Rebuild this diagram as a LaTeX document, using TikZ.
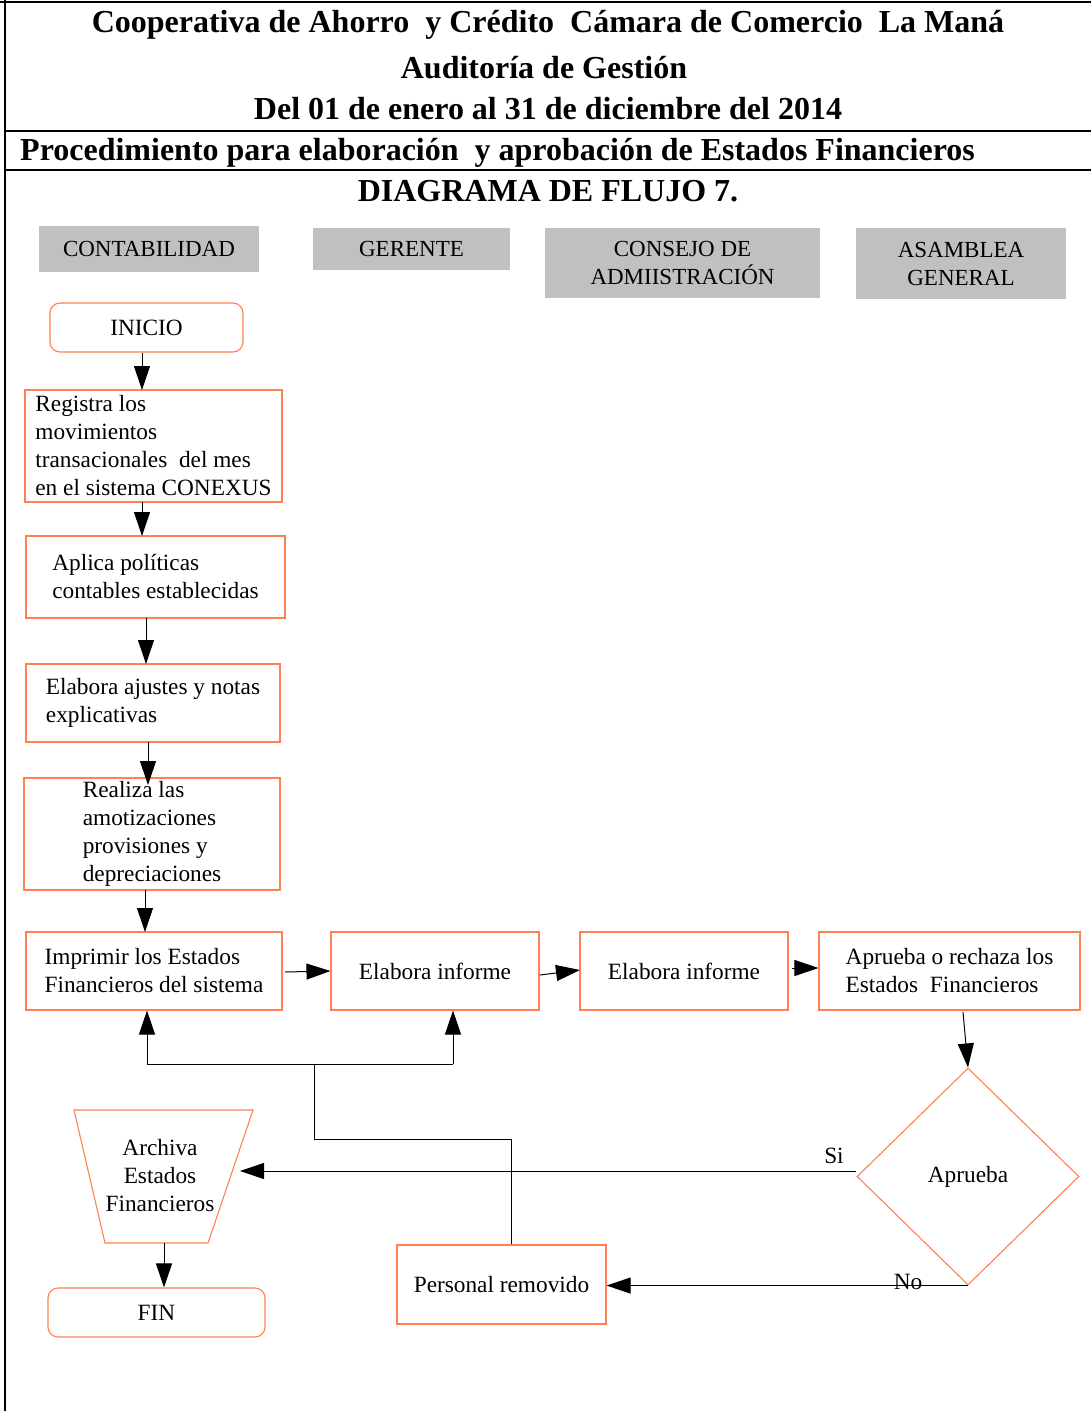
\documentclass[tikz,border=0pt]{standalone}
\usepackage{fontspec}
\setmainfont{Liberation Serif}
\usetikzlibrary{arrows.meta,shapes.geometric}
\definecolor{boxline}{RGB}{255,128,80}
\definecolor{lanegray}{RGB}{192,192,192}
\tikzset{
  proc/.style={draw=boxline, line width=1.1pt, inner sep=0pt, align=left, font=\fontsize{23.3}{28}\selectfont},
  term/.style={proc, rounded corners=10pt, align=center},
  lane/.style={fill=lanegray, inner sep=0pt, align=center, font=\fontsize{23}{28}\selectfont},
  arr/.style={line width=1pt, -{Triangle[length=24pt,width=16pt]}},
  conn/.style={line width=1pt},
  frame/.style={line width=2.8pt},
  ttl/.style={font=\fontsize{32}{36}\bfseries\selectfont, inner sep=0pt},
  lbl/.style={font=\fontsize{23.3}{28}\selectfont, inner sep=0pt}
}
\begin{document}
\begin{tikzpicture}[x=1pt,y=-1pt]
\useasboundingbox (0,0) rectangle (1091,1411);
% frame
\draw[frame] (0,2) -- (1091,2);
\draw[frame] (5,0) -- (5,1411);
\draw[frame] (5,131) -- (1091,131);
\draw[frame] (5,170) -- (1091,170);
% titles
\node[ttl] (t1) at (548,25) {Cooperativa de Ahorro\ \ y Crédito\ \ Cámara de Comercio\ \ La Maná};
\node[ttl] (t2) at (544,68) {Auditoría de Gestión};
\node[ttl] (t3) at (548,109) {Del 01 de enero al 31 de diciembre del 2014};
\node[ttl, anchor=west] (t4) at (20,153) {Procedimiento para elaboración\ \ y aprobación de Estados Financieros};
\node[ttl] (t5) at (548,191) {DIAGRAMA DE FLUJO 7.};
% lanes
\node[lane, minimum width=220pt, minimum height=46pt] (l1) at (149,249) {CONTABILIDAD};
\node[lane, minimum width=197pt, minimum height=42pt] (l2) at (411.5,249) {GERENTE};
\node[lane, minimum width=275pt, minimum height=70pt] (l3) at (682.5,263) {CONSEJO DE\\ADMIISTRACIÓN};
\node[lane, minimum width=210pt, minimum height=71pt] (l4) at (961,263.5) {ASAMBLEA\\GENERAL};
% nodes
\node[term, minimum width=193pt, minimum height=49pt] (ini) at (146.5,327.5) {INICIO};
\node[proc, minimum width=257pt, minimum height=112pt] (reg) at (153.5,446) {Registra los\\movimientos\\transacionales\ \ del mes\\en el sistema CONEXUS};
\node[proc, minimum width=259pt, minimum height=82pt] (apl) at (155.5,577) {Aplica políticas\\contables establecidas};
\node[proc, minimum width=254pt, minimum height=78pt] (aju) at (153,703) {Elabora ajustes y notas\\explicativas};
\node[proc, minimum width=256pt, minimum height=112pt] (rea) at (152,834) {Realiza las\\amotizaciones\\provisiones y\\depreciaciones};
\node[proc, minimum width=256pt, minimum height=78pt] (imp) at (154,971) {Imprimir los Estados\\Financieros del sistema};
\node[proc, minimum width=208pt, minimum height=78pt] (el1) at (435,971) {Elabora informe};
\node[proc, minimum width=208pt, minimum height=78pt] (el2) at (684,971) {Elabora informe};
\node[proc, minimum width=261pt, minimum height=78pt] (apr) at (949.5,971) {Aprueba o rechaza los\\Estados\ \ Financieros};
\node[proc, diamond, align=center, minimum width=222pt, minimum height=217pt] (dec) at (968,1176.5) {Aprueba};
\node[proc, minimum width=209pt, minimum height=79pt] (per) at (501.5,1284.5) {Personal removido};
\node[term, minimum width=217pt, minimum height=49pt] (fin) at (156.5,1312.5) {FIN};
% trapezoid
\draw[draw=boxline, line width=1.1pt] (74,1110) -- (253,1110) -- (208,1243) -- (105,1243) -- cycle;
\node[lbl, align=center] (arch) at (160,1176) {Archiva\\Estados\\Financieros};
\coordinate (archR) at (240,1171);
\coordinate (archB) at (164,1243);
% connectors
\draw[arr] (ini.south -| 142,0) -- (142,390);
\draw[arr] (142,502) -- (142,536);
\draw[arr] (146,618) -- (146,664);
\draw[arr] (148,742) -- (148,785);
\draw[arr] (145,890) -- (145,932);
\draw[arr] (285,972) -- (imp.east -| el1.west);
\draw[arr] (540,975) -- (580,970);
\draw[arr] (792,968) -- (apr.west |- 0,968);
\draw[arr] (963,1012) -- (dec.north);
\draw[arr] (dec.west |- archR) -- (archR);
\draw[arr] (dec.south) -- (per.east |- dec.south);
\draw[arr] (archB) -- (fin.north -| archB);
\coordinate (jl) at (147,1064);
\coordinate (jr) at (453,1064);
\coordinate (jm) at (314,1064);
\draw[conn] (jl) -- (jr);
\draw[arr] (jl) -- (jl |- imp.south);
\draw[arr] (jr) -- (jr |- el1.south);
\draw[conn] (per.north -| 511,0) |- (314,1139) -- (jm);
% labels
\node[lbl] (si) at (834,1156) {Si};
\node[lbl] (no) at (908,1282) {No};
\end{tikzpicture}
\end{document}
